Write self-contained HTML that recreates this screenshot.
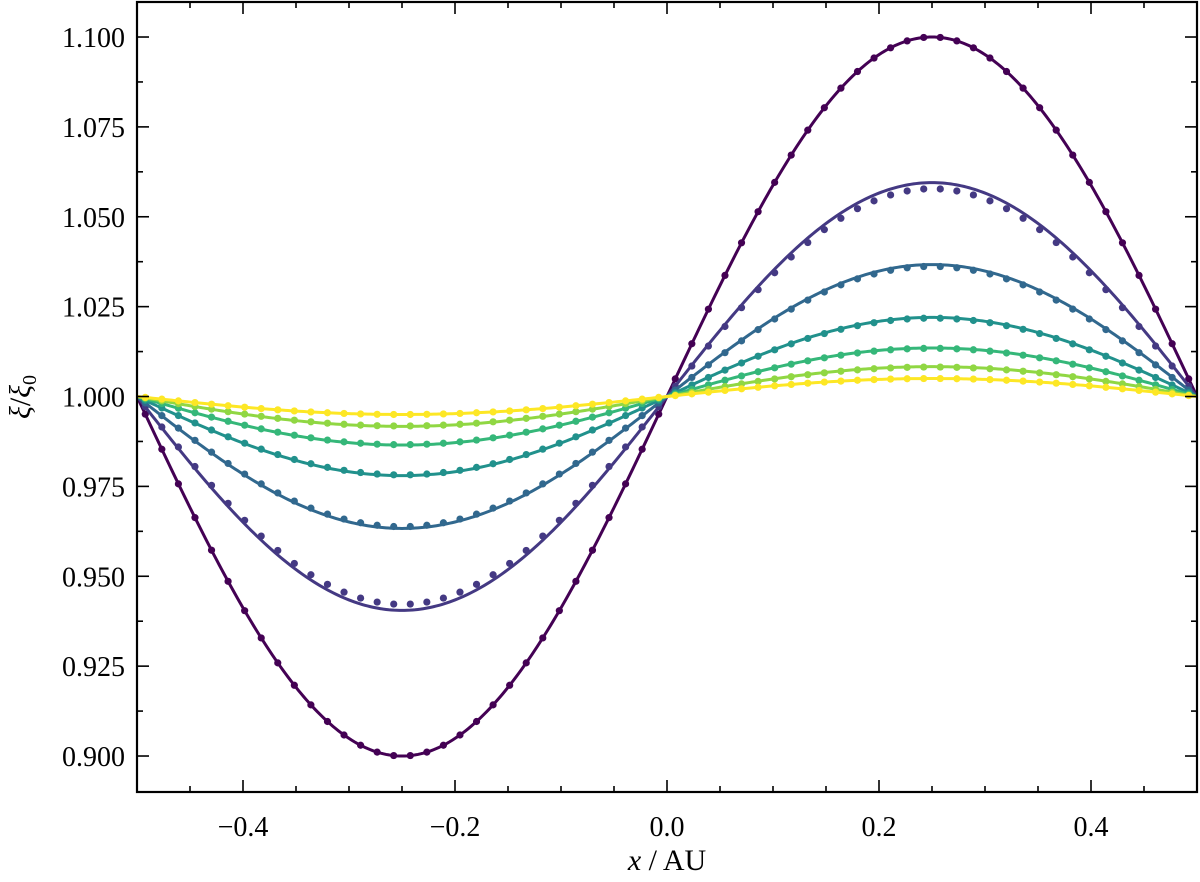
<!DOCTYPE html>
<html><head><meta charset="utf-8"><style>
body{margin:0;background:#fff}
svg{display:block;font-family:"Liberation Serif",serif}
</style></head><body>
<svg id="c" width="1200" height="882"></svg>
<script>
const lineAmps=[0.1,0.0595,0.0367,0.022,0.0135,0.0083,0.005];
const dotAmps=[0.1,0.0578,0.0362,0.0218,0.0134,0.0082,0.005];
const colors=['#440154','#443983','#31688e','#21918c','#35b779','#90d743','#fde725'];
const xTicks=[-0.4,-0.2,0.0,0.2,0.4];
const xTickLabels=['\u22120.4','\u22120.2','0.0','0.2','0.4'];
const yTicks=[0.9,0.925,0.95,0.975,1.0,1.025,1.05,1.075,1.1];
const yTickLabels=['0.900','0.925','0.950','0.975','1.000','1.025','1.050','1.075','1.100'];
const nCells=64;
const L=137,R=1197,T=2,B=792;
const xmin=-0.5,xmax=0.5,ymin=0.88999,ymax=1.10974;
const sx=x=>L+(x-xmin)/(xmax-xmin)*(R-L);
const sy=y=>B-(y-ymin)/(ymax-ymin)*(B-T);
const NS='http://www.w3.org/2000/svg';
const svg=document.getElementById('c');
function mk(t,a,p){const e=document.createElementNS(NS,t);for(const k in a)e.setAttribute(k,a[k]);(p||svg).appendChild(e);return e;}
const clip=mk('clipPath',{id:'cp'});mk('rect',{x:L,y:T,width:R-L,height:B-T},clip);
const g=mk('g',{'clip-path':'url(#cp)'});


for(let s=0;s<lineAmps.length;s++){
  let d='';
  for(let i=0;i<=400;i++){const x=xmin+i/400;const y=1+lineAmps[s]*Math.sin(2*Math.PI*x);d+=(i?'L':'M')+sx(x).toFixed(2)+','+sy(y).toFixed(2);}
  const p=mk('path',{d:d,fill:'none',stroke:colors[s],'stroke-width':3},g);
  
  
  for(let i=0;i<nCells;i++){
    const x=xmin+(i+0.5)/nCells;const y=1+dotAmps[s]*Math.sin(2*Math.PI*x);
    const c=mk('circle',{cx:sx(x),cy:sy(y),r:3.6,fill:colors[s]},g);
    
    
  }
}
// axes frame
const fr=mk('rect',{x:L,y:T,width:R-L,height:B-T,fill:'none',stroke:'#000','stroke-width':2.2});


// x ticks
for(let i=0;i<=20;i++){const x=xmin+i*0.05;const X=sx(x);const len=(i%4==2)?12:6;
  mk('line',{x1:X,x2:X,y1:B,y2:B-len,stroke:'#000','stroke-width':1.6});
  mk('line',{x1:X,x2:X,y1:T,y2:T+len,stroke:'#000','stroke-width':1.6});}
xTicks.forEach((v,i)=>{const t=mk('text',{x:sx(v),y:B+44,'text-anchor':'middle','font-size':28});t.textContent=xTickLabels[i];
  
  });
// y ticks
for(let i=-1;i<=17;i++){const y=0.9+i*0.0125;if(y<ymin||y>ymax)continue;const Y=sy(y);const len=(i%2==0)?12:6;
  mk('line',{x1:L,x2:L+len,y1:Y,y2:Y,stroke:'#000','stroke-width':1.6});
  mk('line',{x1:R,x2:R-len,y1:Y,y2:Y,stroke:'#000','stroke-width':1.6});}
yTicks.forEach((v,i)=>{const t=mk('text',{x:L-12,y:sy(v)+10,'text-anchor':'end','font-size':28});t.textContent=yTickLabels[i];
  
  });
</script>
<svg style="position:absolute;left:0;top:0" width="1200" height="882" font-family="Liberation Serif, serif">
<text x="667" y="870" text-anchor="middle" font-size="30"><tspan font-style="italic">x</tspan> / AU</text>
<text transform="translate(30,397) rotate(-90)" text-anchor="middle" font-size="30"><tspan font-style="italic">ξ</tspan>/<tspan font-style="italic">ξ</tspan><tspan font-size="20" dy="6">0</tspan></text>
</svg>
</body></html>
